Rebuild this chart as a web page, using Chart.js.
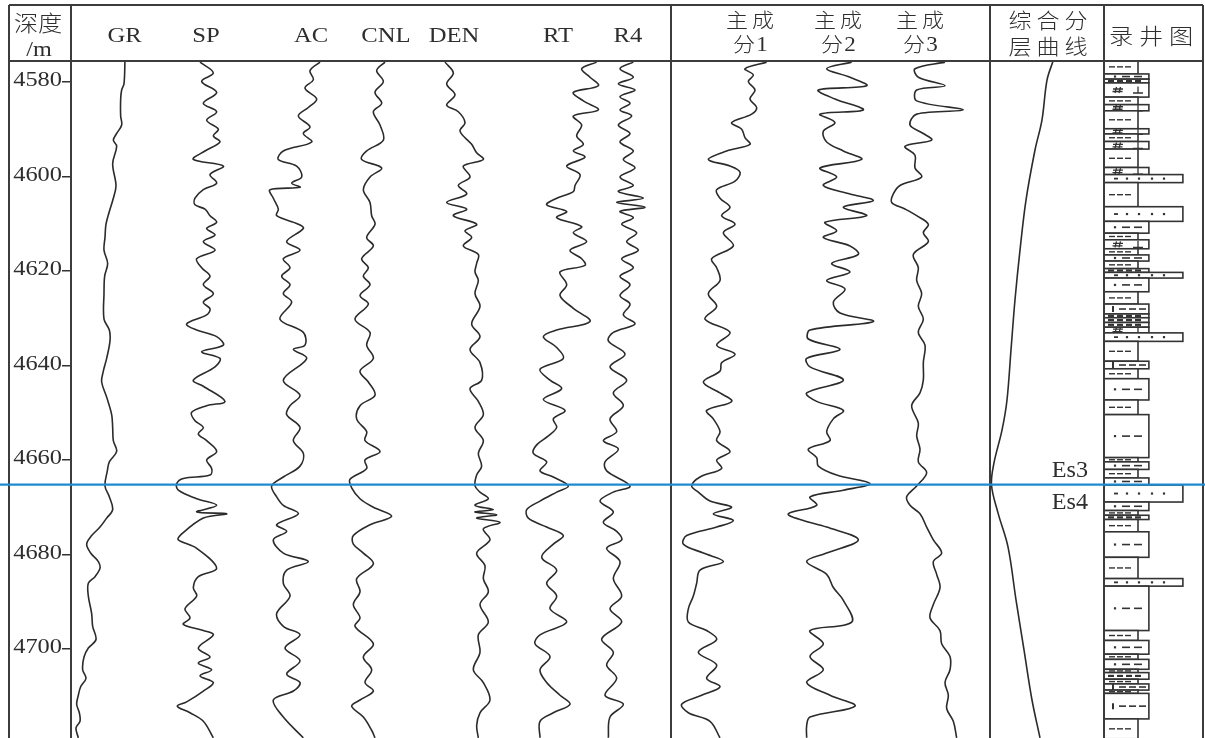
<!DOCTYPE html>
<html><head><meta charset="utf-8">
<script src="https://cdn.jsdelivr.net/npm/chart.js@4.4.0/dist/chart.umd.min.js"></script>
<style>html,body{margin:0;padding:0;background:#fff;overflow:hidden}canvas{display:block}</style>
</head><body>
<canvas id="c" width="1205" height="738" style="width:1205px;height:738px"></canvas>
<script>
// ---------------- DATA ----------------
const depthTicks = [4580, 4600, 4620, 4640, 4660, 4680, 4700];
const depthMin = 4575.56, depthMax = 4718.84;
const boundaryDepth = 4665.2;
const boundaryLabels = ['Es3', 'Es4'];
const logHeaders = ['GR', 'SP', 'AC', 'CNL', 'DEN', 'RT', 'R4'];
const pcHeaders = ['1', '2', '3'];

const grDepth = [4575.3,4580.4,4581.7,4583.6,4587.2,4589.1,4590.9,4592.3,4593.6,4597.3,4601.9,4604.6,4607.4,4610.1,4612.9,4615.6,4618.4,4621.1,4624.8,4630.2,4632.5,4634.8,4638.5,4641.2,4643.5,4646.7,4650.4,4653.1,4655.9,4658.2,4660.4,4662.3,4665.5,4667.8,4670.5,4672.3,4674.2,4676.0,4677.8,4679.7,4681.5,4682.9,4684.7,4686.1,4688.8,4692.5,4695.2,4698.0,4699.8,4701.7,4704.4,4706.2,4708.0,4709.8,4711.7,4713.5,4715.3,4716.7,4718.8];
const grVal = [65,62,55,52,52,55,40,30,40,28,38,30,18,8,5,2,13,4,2,2,18,20,10,0,-5,10,25,28,30,40,18,12,5,18,28,10,-10,-35,-50,-38,-15,-10,-25,-45,-45,-35,-32,-22,-45,-58,-62,-52,-68,-75,-80,-72,-70,-82,-75];

const spDepth = [4575.8,4578.1,4579.9,4582.2,4584.5,4586.3,4588.1,4590.0,4591.4,4592.7,4594.6,4596.4,4597.8,4599.6,4601.4,4602.8,4604.6,4606.0,4606.9,4608.3,4609.7,4611.0,4612.4,4613.8,4615.6,4617.4,4619.3,4621.1,4622.9,4624.8,4626.6,4628.0,4629.3,4631.2,4632.5,4633.9,4635.7,4637.1,4638.5,4640.3,4643.1,4644.4,4647.6,4648.5,4649.9,4651.7,4653.1,4654.5,4655.9,4658.2,4660.0,4661.8,4663.2,4663.9,4665.0,4666.4,4668.2,4669.6,4671.0,4671.4,4672.3,4676.0,4676.9,4678.7,4682.9,4684.7,4687.0,4688.8,4691.5,4693.4,4694.8,4696.1,4697.0,4699.8,4701.7,4703.0,4704.4,4705.7,4707.1,4708.9,4711.2,4712.1,4713.5,4715.3,4718.8];
const spVal = [-10,30,-5,40,0,40,10,45,30,50,5,-30,60,20,40,0,-25,-25,5,20,40,10,35,0,35,-20,-5,20,0,30,0,20,10,-50,-20,40,60,-5,50,35,-30,0,65,10,-35,-25,0,-15,10,40,10,25,20,-60,-80,-75,-20,40,-20,70,0,-70,-75,-20,40,-15,-30,-20,-55,-40,-60,0,30,-15,20,-15,25,-10,30,0,-50,-78,-40,0,30];

const acDepth = [4575.8,4577.6,4579.5,4581.3,4583.6,4585.4,4587.2,4589.5,4590.9,4592.7,4594.6,4596.4,4597.8,4600.1,4601.4,4602.3,4602.8,4604.6,4606.9,4608.3,4610.1,4611.0,4613.8,4615.6,4617.4,4619.3,4621.1,4622.9,4624.8,4626.6,4630.2,4633.0,4635.7,4636.6,4638.5,4643.1,4646.3,4648.5,4650.4,4653.1,4655.9,4658.6,4661.3,4663.6,4665.5,4667.8,4669.6,4671.4,4673.7,4675.1,4676.9,4679.7,4681.5,4683.3,4686.1,4688.8,4692.5,4695.2,4697.0,4699.8,4702.5,4705.3,4707.1,4708.9,4710.8,4714.4,4718.8];
const acVal = [90,60,70,45,80,55,25,60,40,65,-20,-35,20,35,5,30,-60,-50,-35,-40,25,40,-10,30,-20,0,-25,0,-20,5,-30,40,45,10,50,-20,30,0,-10,30,10,40,30,-20,-55,-40,-20,25,-40,-10,-50,-20,55,-10,-20,0,-40,-20,30,-15,30,-10,30,10,-50,-20,40];

const cnlDepth = [4575.8,4577.6,4579.9,4582.2,4584.5,4586.3,4589.1,4592.3,4594.6,4596.4,4598.2,4600.1,4602.8,4605.5,4608.3,4610.1,4612.9,4614.7,4617.4,4619.3,4621.1,4622.9,4625.2,4627.0,4630.2,4633.0,4635.7,4638.5,4641.2,4643.5,4646.3,4648.5,4651.3,4654.0,4655.9,4658.2,4660.0,4661.8,4664.1,4665.9,4668.2,4670.0,4671.9,4673.7,4676.0,4677.8,4679.7,4682.0,4685.1,4687.9,4690.6,4693.4,4695.2,4698.9,4701.7,4704.4,4707.1,4708.9,4710.8,4712.1,4714.4,4717.2,4718.8];
const cnlVal = [55,30,50,25,45,20,40,50,0,-15,45,10,-10,10,15,25,0,20,-15,5,-10,10,-20,5,-35,10,0,20,-20,5,25,-20,-30,0,-5,40,-5,0,-50,-45,-20,20,75,10,-40,-40,-10,20,-30,-20,-40,-20,-35,20,-10,15,-5,20,-20,-45,-10,15,25];

const denDepth = [4575.8,4578.1,4580.4,4582.7,4584.9,4586.3,4588.6,4590.4,4593.2,4595.0,4596.4,4597.8,4600.1,4601.9,4603.7,4605.5,4606.9,4608.3,4610.1,4611.5,4612.9,4614.7,4616.5,4618.4,4620.2,4622.0,4624.8,4627.5,4631.2,4633.9,4636.6,4639.4,4643.1,4644.9,4647.6,4650.4,4653.1,4655.9,4658.6,4661.3,4663.2,4665.5,4666.8,4668.2,4669.6,4670.5,4671.0,4671.6,4672.3,4673.2,4674.6,4676.9,4679.7,4682.4,4685.1,4687.9,4690.6,4694.3,4697.0,4700.7,4704.4,4707.1,4710.8,4713.5,4716.2,4718.8];
const denVal = [-85,-60,-80,-55,-80,-45,-25,-40,-5,10,30,-30,-10,-45,-20,-80,-20,-60,10,-25,-5,-30,15,10,5,15,5,20,-5,20,-10,20,25,-10,15,30,5,30,15,25,10,5,20,45,5,60,5,70,10,80,30,50,10,35,30,45,20,45,15,20,0,30,50,20,10,15];

const rtDepth = [4575.8,4577.2,4579.0,4580.8,4582.2,4584.0,4585.9,4587.2,4589.1,4591.4,4593.2,4594.6,4595.9,4597.8,4599.6,4601.9,4603.2,4604.6,4606.0,4607.4,4608.7,4610.6,4611.9,4613.8,4615.6,4617.4,4618.8,4620.2,4622.9,4625.2,4627.9,4630.7,4632.5,4633.9,4636.2,4638.5,4640.8,4643.1,4644.9,4647.2,4649.5,4651.3,4653.1,4654.9,4656.8,4658.6,4660.4,4662.3,4663.6,4665.5,4666.8,4668.7,4670.5,4672.3,4674.2,4676.0,4677.8,4680.6,4683.3,4686.1,4688.8,4691.5,4694.3,4697.0,4698.9,4701.6,4704.4,4707.1,4709.8,4711.7,4713.5,4715.3,4718.8];
const rtVal = [110,65,90,115,40,70,115,40,65,50,70,40,75,20,60,45,40,-10,-40,20,-10,65,40,80,30,65,75,0,20,0,40,90,-10,-50,-10,10,-60,-30,5,-50,15,-20,-10,-35,-70,-80,-40,-60,-20,25,-10,-60,-100,-95,-40,10,-20,-55,-10,-40,-10,-30,20,-60,-75,-30,-60,-40,0,30,-20,-60,-60];

const r4Depth = [4575.8,4577.2,4579.0,4580.4,4581.7,4583.1,4584.5,4585.9,4587.2,4589.1,4590.9,4592.7,4594.6,4596.4,4598.2,4600.1,4601.9,4603.2,4604.6,4605.5,4606.5,4607.4,4608.7,4610.1,4611.9,4613.8,4615.6,4617.4,4619.3,4621.1,4622.9,4625.2,4627.0,4629.3,4631.2,4633.0,4634.8,4637.6,4640.3,4643.1,4645.8,4648.5,4651.3,4654.0,4655.9,4657.7,4660.4,4662.3,4665.5,4666.8,4668.7,4671.0,4673.2,4675.1,4676.9,4678.7,4681.5,4685.1,4688.8,4691.5,4694.3,4697.9,4700.7,4703.4,4706.2,4709.8,4711.7,4714.4,4718.8];
const r4Val = [40,0,40,-5,45,0,30,0,35,-5,30,0,40,10,45,0,40,-5,70,-10,75,0,40,5,50,20,55,5,40,0,30,0,30,10,45,-20,-35,15,-30,20,-20,10,-30,-10,-50,-5,-45,-40,30,-20,-60,-20,-50,-10,5,-40,0,-20,5,-30,5,-55,-20,-40,-10,-45,10,-30,-35];

const pc1Depth = [4575.8,4577.2,4578.5,4579.9,4581.7,4583.6,4585.4,4586.8,4588.6,4590.0,4591.8,4593.2,4594.6,4596.4,4597.8,4599.1,4601.0,4602.8,4604.6,4606.5,4608.3,4610.1,4611.9,4614.7,4617.4,4619.3,4622.0,4624.8,4627.5,4630.2,4633.0,4635.7,4637.6,4639.4,4641.2,4643.5,4645.8,4647.6,4649.5,4651.3,4654.0,4655.9,4658.2,4660.0,4661.8,4663.6,4665.5,4666.8,4668.7,4670.0,4671.4,4672.8,4674.2,4676.0,4677.8,4679.7,4681.5,4683.3,4686.1,4688.8,4691.5,4694.3,4696.1,4698.0,4700.7,4703.4,4706.2,4708.0,4709.8,4711.7,4713.5,4715.3,4718.8];
const pc1Val = [140,75,100,85,105,90,110,95,35,65,75,90,20,-35,30,60,45,-10,0,30,5,45,10,40,-25,-10,0,-35,-10,-45,30,-10,45,5,0,-50,0,35,-40,-20,0,-10,30,-10,5,-60,-85,-65,-30,35,-20,40,-10,-100,-110,-50,10,-60,-70,-80,-95,-95,-40,-10,-65,-10,-40,0,-55,-115,-95,-30,0];

const pc2Depth = [4575.8,4577.2,4579.0,4580.8,4581.7,4583.6,4585.9,4586.8,4588.6,4590.4,4592.7,4594.6,4596.4,4598.2,4600.1,4601.9,4603.7,4605.1,4606.5,4608.3,4609.7,4611.5,4612.9,4614.7,4616.5,4618.4,4620.2,4622.0,4623.8,4626.6,4628.9,4630.7,4632.5,4634.4,4636.6,4638.5,4640.3,4643.1,4645.8,4647.6,4649.5,4651.3,4654.0,4655.9,4657.7,4659.5,4661.3,4663.2,4665.0,4666.4,4667.8,4669.6,4671.4,4672.8,4674.2,4676.9,4679.7,4681.5,4684.2,4687.0,4689.7,4694.3,4696.1,4698.9,4701.6,4704.4,4707.1,4709.8,4712.1,4714.4,4716.2,4718.8];
const pc2Val = [55,-20,50,100,-45,5,90,-40,5,-30,-20,30,85,-40,10,-30,50,120,30,100,-25,10,-30,50,75,-5,50,-20,35,0,20,120,-70,-75,20,-80,-70,30,-80,-50,30,0,-20,-10,-75,-50,-45,10,110,30,-70,-50,-135,-90,-20,75,-20,-80,-20,0,30,55,-70,-30,-70,-30,-80,-10,65,-70,-80,-80];

const pc3Depth = [4575.8,4577.2,4579.0,4580.8,4581.7,4584.0,4585.9,4586.8,4589.1,4590.9,4592.3,4593.6,4595.5,4598.2,4600.1,4601.9,4603.7,4605.5,4606.9,4608.3,4610.1,4611.9,4613.8,4616.5,4619.3,4622.0,4624.8,4627.5,4630.2,4633.0,4635.7,4639.4,4643.1,4645.8,4648.5,4652.2,4654.9,4657.7,4660.4,4662.7,4665.5,4667.8,4669.6,4671.4,4674.2,4676.9,4679.7,4681.5,4684.2,4687.0,4690.6,4693.4,4696.1,4698.9,4701.6,4704.4,4707.1,4709.8,4712.6,4715.3,4718.8];
const pc3Val = [65,-25,-15,65,-20,-20,120,-20,-40,0,25,-55,-25,-25,-5,-70,-90,-95,-55,-20,15,0,15,-30,-15,-20,-5,-15,0,-15,5,0,0,-10,-35,-15,-20,-10,-15,10,-20,-50,-40,-10,10,30,55,30,40,50,30,20,50,55,80,80,65,75,70,90,100];

const compDepth = [4575.6,4579.6,4588.0,4594.4,4605.0,4615.6,4626.1,4636.7,4647.3,4653.7,4660.6,4665.3,4671.2,4678.4,4689.6,4700.2,4710.8,4718.8];
const compVal = [63,57,52,45,36,30,25,21,17,12,4,1.5,8,18,26,34,42,50];

const lithTop = [4575.3,4578.3,4579.4,4580.2,4583.2,4584.8,4586.1,4589.9,4591.0,4592.6,4594.2,4598.1,4599.6,4601.3,4606.4,4609.5,4612.0,4613.4,4615.3,4616.6,4617.9,4619.5,4620.3,4621.5,4624.4,4627.0,4629.1,4629.9,4630.9,4631.9,4633.1,4634.9,4639.1,4640.7,4642.8,4647.3,4650.4,4659.5,4660.4,4662.0,4663.8,4665.3,4668.9,4670.7,4671.7,4672.6,4675.2,4680.6,4685.1,4686.7,4696.1,4698.2,4701.1,4702.2,4704.3,4705.0,4706.4,4707.4,4708.7,4709.4,4714.8];
const lithType = ['mud','silt','dmud','dolo','mud','dolo','mud','dolo','mud','dolo','mud','dolo','sand','mud','sand','silt','mud','dolo','mud','silt','mud','dmud','sand','silt','mud','lsilt','dmud','dmud','dmud','dolo','sand','mud','lsilt','mud','silt','mud','silt','mud','silt','mud','silt','sand','silt','mud','dmud','mud','silt','mud','sand','silt','mud','silt','mud','silt','mud','dmud','mud','lsilt','mud','lsilt','mud'];
const lithBase = 4719;
const lithGrain = {mud: 1, silt: 1.32, dolo: 1.32, dmud: 1.32, lsilt: 1.32, sand: 2.32};

// ---------------- LAYOUT / STYLE ----------------
const SERIF = '"Liberation Serif", "Times New Roman", serif';
const CJK = '"Noto Sans CJK SC", sans-serif';
const LAY = {left: 9, top: 5, headerBottom: 61, right: 1203, dividers: [71, 671, 990, 1104],
  areaLeft: 71, areaRight: 1203,
  logHeaderX: [124.5, 206, 311, 386, 454, 558, 628], pcHeaderX: [750, 838, 920],
  esX: 1088};
const curves = [
  {id: 'xGR', d: grDepth, v: grVal, origin: 103.33, ppu: 1/3},
  {id: 'xSP', d: spDepth, v: spVal, origin: 203.33, ppu: 1/3},
  {id: 'xAC', d: acDepth, v: acVal, origin: 290, ppu: 1/3},
  {id: 'xCNL', d: cnlDepth, v: cnlVal, origin: 366.67, ppu: 1/3},
  {id: 'xDEN', d: denDepth, v: denVal, origin: 473.33, ppu: 1/3},
  {id: 'xRT', d: rtDepth, v: rtVal, origin: 560, ppu: 1/3},
  {id: 'xR4', d: r4Depth, v: r4Val, origin: 620, ppu: 1/3},
  {id: 'xPC1', d: pc1Depth, v: pc1Val, origin: 720, ppu: 1/3},
  {id: 'xPC2', d: pc2Depth, v: pc2Val, origin: 833.33, ppu: 1/3},
  {id: 'xPC3', d: pc3Depth, v: pc3Val, origin: 923.33, ppu: 1/3},
  {id: 'xCOMP', d: compDepth, v: compVal, origin: 990, ppu: 1}
];

const scales = {
  y: {
    type: 'linear', reverse: true, min: depthMin, max: depthMax, position: 'left',
    afterBuildTicks: s => { s.ticks = depthTicks.map(v => ({value: v})); },
    afterFit: s => { s.width = 62; s.paddingTop = 0; s.paddingBottom = 0; },
    ticks: {display: false},
    grid: {display: true, drawOnChartArea: false, drawTicks: true, tickLength: 9, color: '#333', lineWidth: 1.5},
    border: {display: false}
  },
  xLith: {type: 'linear', axis: 'x', display: false, min: (LAY.areaLeft - 1104) / 34, max: (LAY.areaRight - 1104) / 34}
};
curves.forEach(c => {
  scales[c.id] = {type: 'linear', axis: 'x', display: false,
    min: (LAY.areaLeft - c.origin) / c.ppu, max: (LAY.areaRight - c.origin) / c.ppu};
});

const datasets = curves.map(c => {
  const n = Math.min(c.d.length, c.v.length);
  const pts = [];
  for (let i = 0; i < n; i++) pts.push({x: c.v[i], y: c.d[i]});
  return {label: c.id, data: pts, xAxisID: c.id, yAxisID: 'y', showLine: true, pointRadius: 0,
    borderColor: '#2b2b2b', borderWidth: 1.6, tension: 0.35, fill: false};
});

function stretchText(ctx, txt, x, y, align, font, sx) {
  ctx.save(); ctx.font = font; ctx.textAlign = align; ctx.translate(x, y); ctx.scale(sx, 1); ctx.fillText(txt, 0, 0); ctx.restore();
}
function charsAt(ctx, txt, cx, y, pitch, font, sx) {
  const arr = Array.from(txt);
  arr.forEach((ch, i) => stretchText(ctx, ch, cx + (i - (arr.length - 1) / 2) * pitch, y, 'center', font, sx));
}
function drawLith(ctx, type, x0, yc) {
  ctx.fillStyle = '#333'; ctx.strokeStyle = '#333';
  const seg = (x, len, lw) => { ctx.lineWidth = lw; ctx.beginPath(); ctx.moveTo(x, yc); ctx.lineTo(x + len, yc); ctx.stroke(); };
  const dot = (x) => ctx.fillRect(x - 1.1, yc - 1.1, 2.2, 2.2);
  if (type === 'mud') { seg(x0 + 5, 6, 1.4); seg(x0 + 13, 6, 1.4); seg(x0 + 21, 6, 1.4); }
  else if (type === 'silt') { dot(x0 + 11); seg(x0 + 18, 8, 1.6); seg(x0 + 30, 8, 1.6); }
  else if (type === 'sand') { seg(x0 + 10, 4, 1.8); dot(x0 + 23); dot(x0 + 35); dot(x0 + 48); dot(x0 + 60); }
  else if (type === 'dmud') { for (let k = 0; k < 4; k++) seg(x0 + 4 + k * 9, 6, 2.2); }
  else if (type === 'lsilt') {
    ctx.lineWidth = 2; ctx.beginPath(); ctx.moveTo(x0 + 9, yc - 3); ctx.lineTo(x0 + 9, yc + 3); ctx.stroke();
    seg(x0 + 15, 7, 1.6); seg(x0 + 25, 7, 1.6); seg(x0 + 35, 7, 1.6);
  } else if (type === 'dolo') {
    // "#" drawn as two slanted verticals + two horizontals, "⊥" as a small inverted T
    ctx.lineWidth = 1.3;
    ctx.beginPath();
    ctx.moveTo(x0 + 11, yc + 3); ctx.lineTo(x0 + 12.5, yc - 3);
    ctx.moveTo(x0 + 15, yc + 3); ctx.lineTo(x0 + 16.5, yc - 3);
    ctx.moveTo(x0 + 9, yc - 1); ctx.lineTo(x0 + 19, yc - 1);
    ctx.moveTo(x0 + 8.5, yc + 1.5); ctx.lineTo(x0 + 18.5, yc + 1.5);
    ctx.moveTo(x0 + 34, yc - 3.5); ctx.lineTo(x0 + 34, yc + 3);
    ctx.moveTo(x0 + 29, yc + 3); ctx.lineTo(x0 + 39, yc + 3);
    ctx.stroke();
  }
}

const wellPlugin = {
  id: 'wellPlugin',
  beforeDraw(chart) {
    const ctx = chart.ctx; ctx.save(); ctx.fillStyle = '#fff'; ctx.fillRect(0, 0, chart.width, chart.height); ctx.restore();
  },
  afterDatasetsDraw(chart) {
    const ctx = chart.ctx, ys = chart.scales.y, xl = chart.scales.xLith, ca = chart.chartArea;
    ctx.save();
    ctx.beginPath(); ctx.rect(ca.left, ca.top, ca.right - ca.left, ca.bottom - ca.top); ctx.clip();
    for (let i = 0; i < lithTop.length; i++) {
      const t = lithTop[i], b = i + 1 < lithTop.length ? lithTop[i + 1] : lithBase;
      const type = lithType[i];
      const y0 = ys.getPixelForValue(t), y1 = ys.getPixelForValue(b);
      const x0 = xl.getPixelForValue(0), x1 = xl.getPixelForValue(lithGrain[type]);
      ctx.fillStyle = '#fff'; ctx.fillRect(x0, y0, x1 - x0, y1 - y0);
      ctx.strokeStyle = '#333'; ctx.lineWidth = 1.6; ctx.strokeRect(x0, y0, x1 - x0, y1 - y0);
      drawLith(ctx, type, x0, (y0 + y1) / 2);
    }
    ctx.restore();
  },
  afterDraw(chart) {
    const ctx = chart.ctx, ys = chart.scales.y;
    ctx.save();
    // frame
    ctx.strokeStyle = '#3c3c3c'; ctx.lineWidth = 2;
    ctx.beginPath();
    [LAY.left, ...LAY.dividers, LAY.right].forEach(x => { ctx.moveTo(x, LAY.top); ctx.lineTo(x, chart.height); });
    ctx.moveTo(LAY.left, LAY.top); ctx.lineTo(LAY.right, LAY.top);
    ctx.moveTo(LAY.left, LAY.headerBottom); ctx.lineTo(LAY.right, LAY.headerBottom);
    ctx.stroke();
    // boundary line
    const by = ys.getPixelForValue(boundaryDepth);
    ctx.strokeStyle = '#1e8bd0'; ctx.lineWidth = 2.2;
    ctx.beginPath(); ctx.moveTo(0, by); ctx.lineTo(chart.width, by); ctx.stroke();
    // depth labels
    ctx.fillStyle = '#2e2e2e'; ctx.textBaseline = 'middle';
    depthTicks.forEach(d => stretchText(ctx, String(d), 62, ys.getPixelForValue(d) - 1, 'right', '20px ' + SERIF, 1.22));
    // headers
    charsAt(ctx, '深度', 38, 23, 24, '300 22px ' + CJK, 1.1);
    stretchText(ctx, '/m', 39, 50, 'center', '22px ' + SERIF, 1.1);
    ctx.textBaseline = 'alphabetic';
    logHeaders.forEach((h, i) => stretchText(ctx, h, LAY.logHeaderX[i], 42, 'center', '22px ' + SERIF, 1.12));
    ctx.textBaseline = 'middle';
    pcHeaders.forEach((h, i) => {
      const cx = LAY.pcHeaderX[i];
      charsAt(ctx, '主成', cx, 20, 26, '300 20px ' + CJK, 1.1);
      stretchText(ctx, '分', cx - 6, 44, 'center', '300 20px ' + CJK, 1.1);
      stretchText(ctx, h, cx + 12, 45, 'center', '21px ' + SERIF, 1.1);
    });
    charsAt(ctx, '综合分', 1048, 20, 28, '300 21px ' + CJK, 1.1);
    charsAt(ctx, '层曲线', 1048, 46, 28, '300 21px ' + CJK, 1.1);
    charsAt(ctx, '录井图', 1151, 36, 30, '300 22px ' + CJK, 1.1);
    // boundary labels
    ctx.textBaseline = 'alphabetic';
    stretchText(ctx, boundaryLabels[0], LAY.esX, by - 8, 'right', '23px ' + SERIF, 1.05);
    stretchText(ctx, boundaryLabels[1], LAY.esX, by + 24, 'right', '23px ' + SERIF, 1.05);
    ctx.restore();
  }
};

new Chart(document.getElementById('c'), {
  type: 'scatter',
  data: {datasets},
  options: {
    responsive: false, animation: false, devicePixelRatio: 1, events: [],
    layout: {autoPadding: false, padding: {left: LAY.left, top: LAY.headerBottom, right: 1205 - LAY.areaRight, bottom: 0}},
    plugins: {legend: {display: false}, tooltip: {enabled: false}},
    scales
  },
  plugins: [wellPlugin]
});
</script>
</body></html>
